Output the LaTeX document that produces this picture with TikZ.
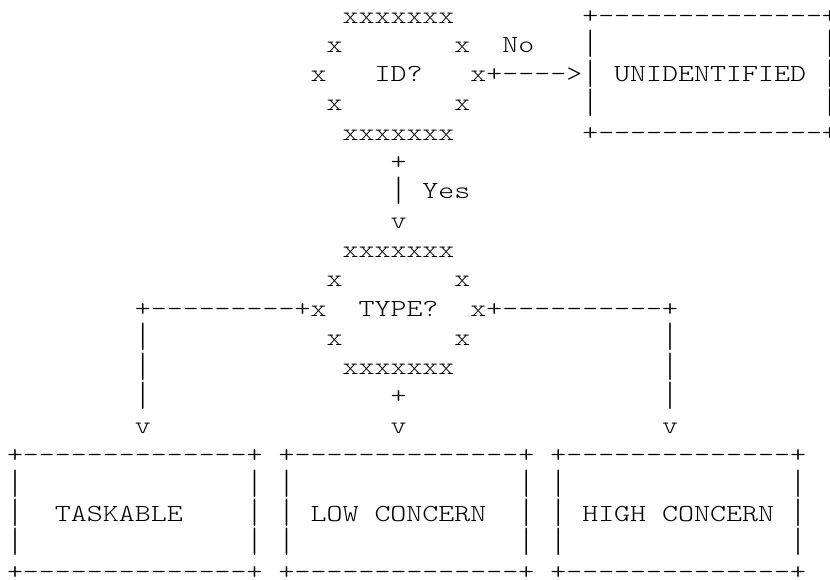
\documentclass[tikz,border=0pt]{standalone}
\usepackage{fontspec}
\usepackage{graphicx}
% thin slab-serif typewriter face, widened to a 16pt character cell
\newfontfamily\asciifont{lmmonolt10-regular.otf}[FakeStretch=1.2424,Ligatures=TeXOff]
\tikzset{
  asc/.style={inner sep=0pt, outer sep=0pt, anchor=base west, text=black,
              font=\asciifont\fontsize{24.5}{29.3}\selectfont}
}
% \asc{name}{column}{row}{characters}: one run of characters on the text grid
\newcommand\asc[4]{\node[asc] (#1) at ({7+15.98*#2},{-23-29.3*#3}) {#4};}
% a vertical bar stretched to fill nearly the whole line height
\newcommand\vbar{\raisebox{-5.5pt}{\resizebox*{\width}{27.5pt}{\raisebox{\depth}{|}}}}
\begin{document}
\begin{tikzpicture}[x=1pt,y=1pt]
\useasboundingbox (0,0) rectangle (830,-579);
\fill[white] (0,0) rectangle (830,-579);
\clip (0,0) rectangle (830,-579);

% decision: ID?
\asc{idN}{21}{0}{xxxxxxx}
\asc{idNW}{20}{1}{x}
\asc{idNE}{28}{1}{x}
\asc{idW}{19}{2}{x}
\asc{idLabel}{23}{2}{ID?}
\asc{idE}{29}{2}{x}
\asc{idSW}{20}{3}{x}
\asc{idSE}{28}{3}{x}
\asc{idS}{21}{4}{xxxxxxx}

% "No" branch to UNIDENTIFIED
\asc{noLabel}{31}{1}{No}
\asc{noArrow}{30}{2}{+---->}
\asc{unidTop}{36}{0}{+--------------+}
\asc{unidL1}{36}{1}{\vbar}
\asc{unidR1}{51}{1}{\vbar}
\asc{unidL2}{36}{2}{\vbar}
\asc{unidText}{38}{2}{UNIDENTIFIED}
\asc{unidR2}{51}{2}{\vbar}
\asc{unidL3}{36}{3}{\vbar}
\asc{unidR3}{51}{3}{\vbar}
\asc{unidBot}{36}{4}{+--------------+}

% "Yes" branch down to TYPE?
\asc{yesStart}{24}{5}{+}
\asc{yesBar}{24}{6}{\vbar}
\asc{yesLabel}{26}{6}{Yes}
\asc{yesHead}{24}{7}{v}

% decision: TYPE?
\asc{typeN}{21}{8}{xxxxxxx}
\asc{typeNW}{20}{9}{x}
\asc{typeNE}{28}{9}{x}
\asc{typeW}{19}{10}{x}
\asc{typeLabel}{22}{10}{TYPE?}
\asc{typeE}{29}{10}{x}
\asc{typeSW}{20}{11}{x}
\asc{typeSE}{28}{11}{x}
\asc{typeS}{21}{12}{xxxxxxx}

% three outgoing branches
\asc{leftRun}{8}{10}{+---------+}
\asc{rightRun}{30}{10}{+----------+}
\asc{leftBarA}{8}{11}{\vbar}
\asc{leftBarB}{8}{12}{\vbar}
\asc{leftBarC}{8}{13}{\vbar}
\asc{rightBarA}{41}{11}{\vbar}
\asc{rightBarB}{41}{12}{\vbar}
\asc{rightBarC}{41}{13}{\vbar}
\asc{midStart}{24}{13}{+}
\asc{leftHead}{8}{14}{v}
\asc{midHead}{24}{14}{v}
\asc{rightHead}{41}{14}{v}

% result boxes
\asc{taskTop}{0}{15}{+--------------+}
\asc{lowTop}{17}{15}{+--------------+}
\asc{highTop}{34}{15}{+--------------+}
\foreach \r in {16,17,18}{
  \foreach \c in {0,15,17,32,34,49}{
    \asc{side-\c-\r}{\c}{\r}{\vbar}
  }
}
\asc{taskText}{3}{17}{TASKABLE}
\asc{lowText}{19}{17}{LOW CONCERN}
\asc{highText}{36}{17}{HIGH CONCERN}
\asc{taskBot}{0}{19}{+--------------+}
\asc{lowBot}{17}{19}{+--------------+}
\asc{highBot}{34}{19}{+--------------+}
\end{tikzpicture}
\end{document}
